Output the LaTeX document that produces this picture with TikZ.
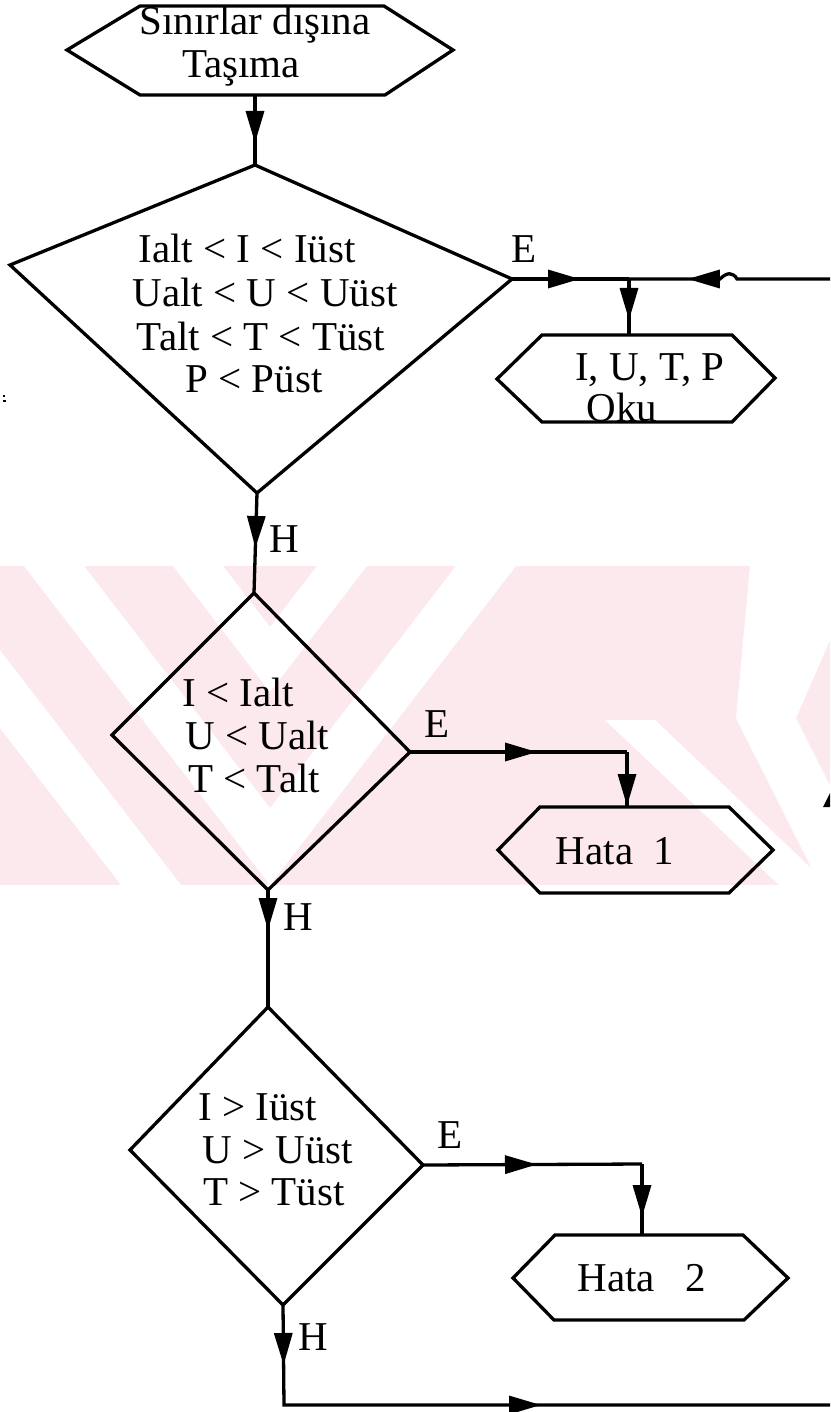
\documentclass[tikz,border=0pt]{standalone}
\usepackage{fontspec}
\setmainfont{Liberation Serif}
\usetikzlibrary{arrows.meta,decorations.markings}

\tikzset{
  lbl/.style={font=\fontsize{41}{43}\selectfont, inner sep=0pt},
  shp/.style={draw=black, line width=3.3pt, line join=miter},
  conn/.style={draw=black, line width=3.3pt},
  flowtip/.tip={Triangle[length=32pt,width=18pt]},
  midarrow/.style={postaction={decorate},
    decoration={markings, mark=at position #1 with {\arrow{flowtip}}}},
  twoarrows/.style 2 args={postaction={decorate},
    decoration={markings,
      mark=at position #1 with {\arrow{flowtip}},
      mark=at position #2 with {\arrow{flowtip}}}},
}
\definecolor{wmpink}{RGB}{252,233,237}

\begin{document}
\begin{tikzpicture}[x=1pt,y=-1pt]
\useasboundingbox (0,0) rectangle (830,1412);
\fill[white] (0,0) rectangle (830,1412);

% pale background band with herringbone stripes
\begin{scope}
  \clip (0,566) rectangle (830,885);
  \fill[wmpink] (0,566) rectangle (830,885);
  \fill[white] (173,566) -- (270,692) -- (367,566) -- (317,566) -- (270,627) -- (223,566) -- cycle;
  \fill[white] (24,566) -- (270,885) -- (516,566) -- (456,566) -- (270,808) -- (84,566) -- cycle;
  \fill[white] (-125,566) -- (-65,566) -- (181,885) -- (121,885) -- cycle;
  \fill[white] (736,718) -- (750,566) -- (830,566) -- (830,640) -- (796,718) -- (880,885) -- (820,885) -- cycle;
  \fill[white] (605,720) -- (655,720) -- (829,885) -- (779,885) -- cycle;
\end{scope}

% ---- shapes ----
% start hexagon
\coordinate (h0b) at (255,95);
\draw[shp] (67,50) -- (140,6) -- (384,6) -- (453,50) -- (385,95) -- (140,95) -- cycle;
\node[lbl, anchor=base] (t0a) at (255,35) {Sınırlar dışına};
\node[lbl, anchor=base] (t0b) at (241,78) {Taşıma};

% decision 1
\coordinate (d1t) at (255,165);
\coordinate (d1l) at (10,265);
\coordinate (d1r) at (512,279);
\coordinate (d1b) at (257,493);
\draw[shp] (d1t) -- (d1r) -- (d1b) -- (d1l) -- cycle;
\node[lbl, anchor=base] (c1a) at (247,263) {Ialt < I < Iüst};
\node[lbl, anchor=base] (c1b) at (265,307) {Ualt < U < Uüst};
\node[lbl, anchor=base] (c1c) at (261,350) {Talt < T < Tüst};
\node[lbl, anchor=base] (c1d) at (254,392) {P < Püst};
\node[lbl, anchor=base] (e1) at (524,263) {E};

% read hexagon
\coordinate (r1t) at (629,335);
\draw[shp] (497,379) -- (542,335) -- (732,335) -- (775,378) -- (732,422) -- (542,422) -- cycle;
\node[lbl, anchor=base] (ra) at (650,380) {I, U, T, P};
\node[lbl, anchor=base] (rb) at (622,421) {Oku};

% decision 2
\coordinate (d2t) at (254,593);
\coordinate (d2l) at (112,735);
\coordinate (d2r) at (410,752);
\coordinate (d2b) at (268,890);
\draw[shp] (d2t) -- (d2r) -- (d2b) -- (d2l) -- cycle;
\node[lbl, anchor=base west] (c2a) at (182,706) {I < Ialt};
\node[lbl, anchor=base west] (c2b) at (185,749) {U < Ualt};
\node[lbl, anchor=base west] (c2c) at (188,792) {T < Talt};
\node[lbl, anchor=base] (e2) at (437,737) {E};
\node[lbl, anchor=base] (hh1) at (284,552) {H};

% error 1
\coordinate (x1t) at (627,807);
\draw[shp] (498,850) -- (540,807) -- (729,807) -- (773,850) -- (729,893) -- (540,893) -- cycle;
\node[lbl, anchor=base] (x1) at (615,864) {Hata\ \ 1};

% decision 3
\coordinate (d3t) at (268,1007);
\coordinate (d3l) at (130,1150);
\coordinate (d3r) at (423,1165);
\coordinate (d3b) at (283,1305);
\draw[shp] (d3t) -- (d3r) -- (d3b) -- (d3l) -- cycle;
\node[lbl, anchor=base west] (c3a) at (198,1120) {I > Iüst};
\node[lbl, anchor=base west] (c3b) at (202,1163) {U > Uüst};
\node[lbl, anchor=base west] (c3c) at (203,1205) {T > Tüst};
\node[lbl, anchor=base] (e3) at (450,1148) {E};
\node[lbl, anchor=base] (hh2) at (298,930) {H};

% error 2
\coordinate (x2t) at (642,1235);
\draw[shp] (513,1278) -- (555,1235) -- (743,1235) -- (788,1278) -- (744,1320) -- (554,1320) -- cycle;
\node[lbl, anchor=base] (x2) at (642,1291) {Hata\ \ \ 2};
\node[lbl, anchor=base] (hh3) at (313,1350) {H};

% ---- connectors ----
\coordinate (j1) at (629,279);
\coordinate (in1) at (830,279);
\coordinate (j2) at (627,752);
\coordinate (j3) at (642,1164);
\coordinate (c1) at (284,1405);
\coordinate (out1) at (830,1405);

\draw[conn, midarrow=48pt] (h0b) -- (d1t);
\draw[conn, midarrow=68pt] (d1r) -- (j1);
\draw[conn, midarrow=146pt] (in1) -- (737,279) .. controls (733,272) and (727,272) .. (720,279) -- (j1);
\draw[conn, midarrow=41pt] (j1) -- (r1t);
\draw[conn, midarrow=55pt] (d1b) -- (d2t);
\draw[conn, midarrow=127pt] (d2r) -- (j2);
\draw[conn, midarrow=54pt] (j2) -- (x1t);
\draw[conn, midarrow=40pt] (d2b) -- (d3t);
\draw[conn, midarrow=114pt] (d3r) -- (j3);
\draw[conn, midarrow=53pt] (j3) -- (x2t);
\draw[conn, line join=miter, twoarrows={60pt}{357pt}] (d3b) -- (c1) -- (out1);

% arrowhead cut by the right edge
\fill[black] (830,793) -- (823,807) -- (830,807) -- cycle;
% specks
\fill[black] (3,395) rectangle (5,397);
\fill[black] (3,400) rectangle (6,402);
\end{tikzpicture}
\end{document}
